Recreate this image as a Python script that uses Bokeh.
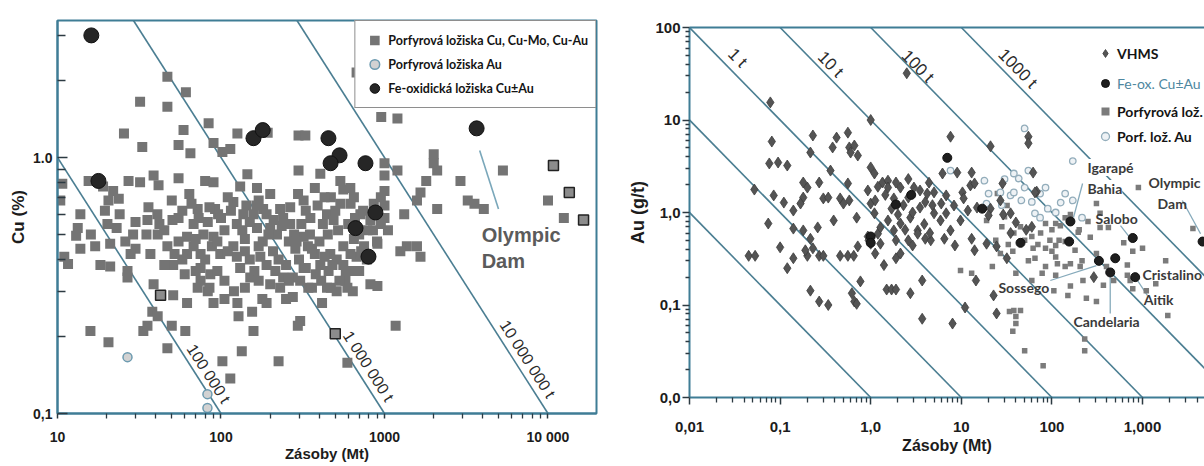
from bokeh.plotting import figure
from bokeh.layouts import row, column
from bokeh.models import FixedTicker, LogAxis, Legend, LegendItem
from bokeh.core.properties import value
from bokeh.embed import file_html
from bokeh.resources import INLINE

# ---------------- LEFT CHART DATA (reserves Mt, Cu %) ----------------
porphyry_cu = [
    (47, 2.07), (61, 1.80), (32, 1.65), (47, 1.58), (84, 1.36), (25.5, 1.24), (59, 1.28), (55, 1.12),
    (33, 1.10), (65, 1.04), (90, 1.14), (102, 1.05), (114, 1.08), (126, 1.24), (193, 1.25), (298, 1.22),
    (55, 0.83), (145, 0.86), (298, 0.89), (10.7, 0.79), (15.5, 0.81), (19, 0.77), (21.9, 0.74), (27.2, 0.81),
    (32, 0.80), (38.7, 0.85), (41.5, 0.78), (80, 0.81), (90, 0.80), (131, 0.77), (166, 0.76),
    (10.4, 0.68), (20.5, 0.68), (13.8, 0.60), (19.5, 0.62), (23.7, 0.69), (72, 0.63), (92, 0.63), (119, 0.67),
    (137, 0.60), (143, 0.65), (158, 0.60), (181, 0.63), (230, 0.63), (265, 0.64), (296, 0.72),
    (13.3, 0.53), (20.2, 0.55), (35.5, 0.57), (40.8, 0.60), (50.5, 0.57), (83, 0.56), (96, 0.60), (166, 0.53),
    (200, 0.53), (265, 0.55),
    (675, 2.15), (955, 1.44), (1200, 1.42), (328, 1.22), (1000, 0.95), (1200, 0.89), (2000, 1.03), (2000, 0.95),
    (2100, 0.89), (1800, 0.81), (1660, 0.73), (1580, 0.68), (2915, 0.81), (5300, 0.89), (10000, 0.68),
    (12500, 0.58), (3230, 0.68), (3550, 0.66), (4050, 0.63), (1320, 0.60), (2100, 0.63), (1000, 0.85),
    (1000, 0.74), (1000, 0.65), (405, 0.865), (375, 0.76), (537, 0.81), (618, 0.76), (650, 0.70), (537, 0.66),
    (445, 0.60), (712, 0.60), (320, 0.68), (352, 0.58), (488, 0.57), (785, 0.52),
    (13.8, 0.44), (11.6, 0.384), (11.0, 0.41), (18.3, 0.38), (21, 0.375), (26.8, 0.36), (26.8, 0.34), (13, 0.495),
    (51, 0.29), (38.7, 0.32), (62, 0.27), (72, 0.31), (83, 0.30), (38, 0.25), (41, 0.24), (33.5, 0.21),
    (35.5, 0.22), (50, 0.22), (60.5, 0.21), (15.9, 0.21), (20.5, 0.19), (47, 0.18), (102, 0.16), (134, 0.175),
    (114, 0.137), (126, 0.27), (128, 0.24), (155, 0.25), (158, 0.21), (225, 0.16), (295, 0.22), (179, 0.28),
    (230, 0.31), (275, 0.285), (21, 0.46), (29, 0.50), (37, 0.42), (47, 0.45), (51, 0.38), (62, 0.42),
    (75, 0.37), (86, 0.35), (99, 0.42), (119, 0.45), (131, 0.37), (151, 0.34), (174, 0.41), (208, 0.43),
    (250, 0.38), (275, 0.34), (90, 0.49), (62, 0.49), (41, 0.50), (75, 0.42),
    (1370, 0.45), (1580, 0.45), (1660, 0.41), (1250, 0.43), (905, 0.315), (1170, 0.22), (593, 0.158),
    (415, 0.27), (342, 0.31), (577, 0.33), (593, 0.31), (455, 0.36), (445, 0.31), (305, 0.33), (305, 0.23),
    (320, 0.49), (375, 0.42), (466, 0.42), (560, 0.45), (675, 0.41), (905, 0.46), (320, 0.37), (405, 0.38),
    (45, 0.52), (55, 0.47), (68, 0.55), (78, 0.50), (88, 0.45), (105, 0.52), (125, 0.55), (140, 0.48),
    (180, 0.47), (220, 0.50), (240, 0.58), (260, 0.47), (30, 0.56), (24, 0.60), (36, 0.64), (50, 0.68),
    (64, 0.72), (110, 0.70), (170, 0.68), (200, 0.72), (350, 0.50), (420, 0.55), (470, 0.70), (560, 0.75),
    (600, 0.55), (700, 0.50), (750, 0.45), (820, 0.57), (150, 0.40), (120, 0.30), (90, 0.27), (60, 0.35),
    (45, 0.38), (75, 0.33), (110, 0.43), (200, 0.32), (250, 0.28), (300, 0.40), (380, 0.35), (480, 0.38),
    (530, 0.33), (640, 0.30), (700, 0.36), (820, 0.32), (900, 0.47), (950, 0.55), (1000, 0.58), (1050, 0.52),
    (58, 0.62), (66, 0.66), (73, 0.58), (85, 0.64), (100, 0.58), (115, 0.62), (135, 0.52), (150, 0.56),
    (165, 0.65), (190, 0.60), (210, 0.57), (235, 0.54), (280, 0.50), (310, 0.55), (330, 0.62), (390, 0.65),
    (430, 0.70), (500, 0.62), (520, 0.52), (620, 0.66), (660, 0.58), (740, 0.62), (860, 0.66), (950, 0.70),
    (52, 0.42), (58, 0.40), (68, 0.45), (80, 0.40), (95, 0.36), (105, 0.33), (140, 0.43), (160, 0.36),
    (190, 0.38), (225, 0.40), (240, 0.34), (285, 0.44), (340, 0.45), (400, 0.47), (430, 0.41), (510, 0.40),
    (560, 0.38), (620, 0.42), (720, 0.43), (780, 0.40), (30, 0.44), (35, 0.50), (28, 0.42), (17, 0.45),
    (16, 0.50), (23, 0.53), (26, 0.47), (42, 0.55), (55, 0.58), (70, 0.48), (95, 0.47), (125, 0.41),
    (170, 0.45), (195, 0.50), (290, 0.47), (360, 0.44), (450, 0.50), (650, 0.48), (850, 0.52), (70, 0.36),
    (85, 0.31), (105, 0.28), (140, 0.31), (170, 0.33), (190, 0.27), (215, 0.36), (260, 0.33), (330, 0.37),
    (360, 0.31), (410, 0.33), (470, 0.31), (510, 0.30), (580, 0.36), (650, 0.36),
]
porphyry_cu_outlined = [(10800, 0.93), (13500, 0.73), (16500, 0.57), (42.7, 0.29), (500, 0.205)]
porphyry_au = [(26.8, 0.166), (82.6, 0.119), (82.6, 0.105)]
fe_oxide_cu = [(16.1, 3.0), (17.8, 0.81), (158, 1.19), (180, 1.28), (454, 1.19), (531, 1.02), (468, 0.95),
               (765, 0.95), (880, 0.61), (665, 0.53), (798, 0.41), (3660, 1.30)]

cu_lines_t = [1e5, 1e6, 1e7]
cu_line_labels = ["100 000 t", "1 000 000 t", "10 000 000 t"]
cu_label_pos = [(84, 0.143), (798, 0.153), (7500, 0.163)]

# ---------------- RIGHT CHART DATA (reserves Mt, Au g/t) ----------------
vhms = [
    (0.078, 15.5), (1.0, 10), (0.081, 5.85), (0.23, 6.8), (0.42, 6.45), (0.56, 7.3), (0.38, 5.05), (0.216, 4.45),
    (0.58, 5.05), (0.66, 5.3), (0.6, 4.45), (0.72, 4.13), (0.076, 3.39), (0.095, 3.47), (0.12, 3.22), (0.36, 2.84),
    (1.0, 3.07), (1.1, 2.64), (1.35, 2.11), (1.55, 2.21), (1.9, 2.11), (0.052, 1.77), (0.085, 1.53), (0.11, 1.28),
    (0.14, 1.05), (0.18, 2.11), (0.2, 1.86), (0.27, 2.11), (0.3, 1.42), (0.34, 1.45), (0.18, 1.45), (0.168, 1.25),
    (0.46, 1.42), (0.5, 1.25), (0.58, 1.35), (0.56, 2.06), (0.7, 0.88), (0.93, 1.73), (1.0, 1.25), (1.12, 1.35),
    (1.55, 1.86), (1.8, 1.42), (1.1, 0.98), (0.074, 0.76), (0.14, 0.67), (0.18, 0.64), (0.26, 0.69), (0.39, 0.82),
    (1.55, 0.82), (0.045, 0.34), (0.053, 0.34), (0.1, 0.42), (0.12, 0.25), (0.14, 0.32), (0.2, 0.34), (0.23, 0.41),
    (0.27, 0.34), (0.3, 0.34), (0.46, 0.34), (0.56, 0.34), (0.65, 0.34), (0.72, 0.43), (0.95, 0.5), (1.12, 0.36),
    (1.4, 0.27), (0.216, 0.143), (0.27, 0.109), (0.34, 0.1), (0.62, 0.134), (0.66, 0.109), (0.7, 0.103),
    (0.77, 0.18), (1.5, 0.147), (1.7, 0.147), (1.9, 0.147), (1.9, 0.32), (0.216, 0.52), (0.19, 0.39),
    (3.7, 0.184), (2.74, 0.134), (3.7, 0.071), (8.0, 0.063), (11, 0.094), (14.5, 0.184), (14, 0.39), (8.5, 0.44),
    (6.5, 0.52), (13, 0.52), (22.7, 0.127), (24.5, 0.081), (19, 0.46), (31.8, 0.32), (24.5, 0.43), (290, 0.2),
    (2.9, 0.44), (2.13, 0.36), (2.5, 32), (7.6, 6.6), (21, 5.2), (55, 6.6), (55, 5.6), (62, 2.7), (68, 1.68),
    (6.2, 2.64), (9.0, 2.7), (13, 2.7), (28.5, 2.06), (3.0, 1.86), (4.4, 2.1), (5.0, 1.65), (6.8, 1.53),
    (10.3, 1.65), (12.6, 1.96), (14, 2.06), (10.6, 1.42), (8.3, 1.19), (14.9, 1.13), (21, 1.1), (20, 0.93),
    (27, 1.35), (35, 0.98), (40, 0.78), (2.13, 1.86), (2.6, 1.45), (3.5, 1.73), (3.5, 1.13), (5.0, 0.98),
    (5.9, 0.82), (2.74, 0.88), (9.8, 0.82), (11.8, 1.05), (65, 1.65), (0.93, 0.55), (1.2, 0.59), (1.28, 0.46),
    (1.9, 0.5), (1.0, 0.46), (1.8, 0.64), (1.28, 0.69), (2.13, 0.76), (3.3, 0.64), (7.6, 0.64), (6.8, 0.98),
    (2.6, 0.5), (3.3, 0.59), (4.0, 0.52), (4.6, 0.5), (29, 0.95), (35, 0.6), (52, 0.65), (60, 0.7),
    (2.3, 1.2), (2.9, 1.0), (4.0, 1.3), (4.8, 1.2), (1.7, 1.1), (2.0, 0.95), (3.9, 0.75), (4.5, 0.6),
    (2.4, 0.65), (6.0, 1.25), (1.45, 1.55), (1.2, 1.9), (2.6, 2.3), (4.2, 1.6),
]
fe_ox = [(7.0, 3.9), (17, 1.1), (160, 0.8), (155, 0.485), (780, 0.53), (330, 0.3), (500, 0.32), (440, 0.225),
         (830, 0.2), (4600, 0.485), (45, 0.47), (1.0, 0.55), (1.0, 0.47), (2.8, 1.55), (1.9, 1.22)]
porphyry = [
    (310, 1.25), (900, 1.86), (25, 1.6), (32, 1.19), (19, 0.82), (110, 0.76), (85, 0.76), (140, 0.88), (340, 0.98),
    (62, 0.41), (65, 0.32), (85, 0.41), (110, 0.33), (110, 0.44), (140, 0.485), (180, 0.39), (205, 0.26),
    (220, 0.184), (140, 0.26), (115, 0.28), (160, 0.16), (150, 0.127), (105, 0.143), (78, 0.22), (60, 0.184),
    (40, 0.22), (37, 0.38), (27, 0.36), (9.8, 0.236), (13, 0.22), (22, 0.26), (34, 0.085), (38, 0.087),
    (45, 0.087), (40, 0.075), (40, 0.063), (37, 0.052), (50, 0.032), (80, 0.022), (230, 0.043), (230, 0.032),
    (240, 0.118), (310, 0.109), (480, 0.184), (370, 0.163), (680, 0.27), (680, 0.21), (730, 0.184), (780, 0.15),
    (1100, 0.143), (1400, 0.17), (1900, 0.077), (1000, 0.41), (780, 0.38), (310, 0.36), (215, 0.3), (400, 0.26),
    (110, 0.21), (85, 0.26), (124, 0.72), (195, 0.61), (265, 0.54), (340, 0.69), (420, 0.69), (620, 0.47),
    (1800, 0.30), (3600, 0.67), (160, 0.28), (30, 0.9), (45, 0.7), (60, 0.55), (75, 0.6), (95, 0.5), (100, 0.65),
    (70, 0.45), (50, 0.5), (38, 0.6), (28, 0.7), (24, 0.5), (33, 0.45), (120, 0.5), (100, 0.38), (55, 0.3),
    (160, 0.95), (200, 0.65), (250, 0.8),
]
porphyry_au_r = [
    (170, 3.6), (50, 8.1), (38, 2.64), (55, 2.84), (18, 2.21), (20, 1.6), (19, 1.25), (27, 1.65), (35, 1.53),
    (38, 1.65), (43, 2.33), (50, 1.86), (74, 1.6), (85, 1.86), (90, 1.1), (65, 0.98), (140, 1.6), (170, 1.35),
    (215, 0.88), (74, 0.88), (7.6, 2.84), (125, 1.28), (46, 1.35), (30, 2.3), (60, 1.3), (110, 1.0), (28, 1.2),
]

au_lines_t = [0.01, 0.1, 1, 10, 100, 1000]
au_line_labels = ["1 t", "10 t", "100 t", "1000 t"]
au_label_pos = [(0.034, 47), (0.36, 40), (3.3, 38), (42, 36)]

deposit_names = ["Igarapé", "Bahia", "Olympic", "Dam", "Salobo", "Cristalino", "Aitik", "Sossego", "Candelaria"]
deposit_label_pos = [(247, 3.07), (247, 1.82), (1165, 2.11), (1466, 1.25), (303, 0.86), (1000, 0.213),
                     (1030, 0.115), (25.7, 0.153), (173, 0.066)]
leader_from = [(218, 2.06), (2750, 1.35), (571, 0.72), (880, 0.184), (96, 0.184), (440, 0.225)]
leader_to = [(173, 0.88), (4370, 0.59), (700, 0.56), (1130, 0.127), (310, 0.267), (440, 0.081)]

# ---------------- STYLE ----------------
TEAL = "#3f7d95"
LINEC = "#4b7e92"
TICK = "#2c3a42"
AX_FONT = "Liberation Sans"
NARROW = "Lato"


def xs(pts):
    return [p[0] for p in pts]


def ys(pts):
    return [p[1] for p in pts]


def log_minor(lo, hi):
    return [m * 10.0 ** e for e in range(lo, hi) for m in range(2, 10)]


def style_axis(ax, label_size, title_size):
    ax.axis_line_color = TEAL
    ax.axis_line_width = 2
    ax.major_tick_line_color = TICK
    ax.minor_tick_line_color = TICK
    ax.major_tick_line_width = 1.5
    ax.minor_tick_line_width = 1.3
    ax.major_label_text_font = AX_FONT
    ax.major_label_text_font_style = "bold"
    ax.major_label_text_color = "#1c1c1c"
    ax.major_label_text_font_size = label_size
    ax.axis_label_text_font = AX_FONT
    ax.axis_label_text_font_style = "bold"
    ax.axis_label_text_color = "#1c1c1c"
    ax.axis_label_text_font_size = title_size


# ================= LEFT FIGURE =================
LX = (10, 19800)
LY = (0.1, 3.43)
p1 = figure(width=600, height=465, x_axis_type="log", y_axis_type="log", x_range=LX, y_range=LY,
            output_backend="svg", toolbar_location=None,
            min_border_left=57, min_border_right=4, min_border_top=20, min_border_bottom=52)
p1.grid.visible = False
p1.outline_line_color = TEAL
p1.outline_line_width = 2

for t in cu_lines_t:
    c = t / 1e4
    p1.line([c / LY[1], c / LY[0]], [LY[1], LY[0]], line_color=LINEC, line_width=1.6)

p1.text(x=xs(cu_label_pos), y=ys(cu_label_pos), text=cu_line_labels, angle=-1.0,
        text_font=value(AX_FONT), text_font_size="16px", text_color="#2b2b2b",
        text_align="center", text_baseline="middle")

p1.line([3820, 4980], [1.065, 0.63], line_color="#7aa7ba", line_width=1.6)
p1.text(x=[3930, 3930], y=[0.50, 0.394], text=["Olympic", "Dam"], text_font=value(AX_FONT),
        text_font_size="20px", text_font_style="bold", text_color="#5b5b5b",
        text_align="left", text_baseline="middle")

r_por = p1.scatter(xs(porphyry_cu), ys(porphyry_cu), marker="square", size=10,
                   fill_color="#747474", line_color=None)
p1.scatter(xs(porphyry_cu_outlined), ys(porphyry_cu_outlined), marker="square", size=10,
           fill_color="#8c8c8c", line_color="#222222", line_width=1.5)
r_au = p1.scatter(xs(porphyry_au), ys(porphyry_au), marker="circle", size=9,
                  fill_color="#d2d2d2", line_color="#6d9bb0", line_width=1.5)
r_fe = p1.scatter(xs(fe_oxide_cu), ys(fe_oxide_cu), marker="circle", size=15,
                  fill_color="#262626", line_color="#111111")

p1.xaxis.ticker = FixedTicker(ticks=[10, 100, 1000, 10000], minor_ticks=log_minor(1, 5))
p1.xaxis.major_label_overrides = {10: "10", 100: "100", 1000: "1000", 10000: "10 000"}
p1.yaxis.ticker = FixedTicker(ticks=[0.1, 1], minor_ticks=log_minor(-1, 1))
p1.yaxis.major_label_overrides = {0.1: "0,1", 1: "1.0"}
p1.xaxis.axis_label = "Zásoby (Mt)"
p1.yaxis.axis_label = "Cu (%)"

style_axis(p1.xaxis[0], "14px", "15px")
style_axis(p1.yaxis[0], "14px", "17px")
xa = p1.xaxis[0]
xa.major_tick_in, xa.major_tick_out, xa.minor_tick_in, xa.minor_tick_out = 0, 5, 0, 5
xa.major_label_standoff = 10
xa.axis_label_standoff = -3
ya = p1.yaxis[0]
ya.major_tick_in, ya.major_tick_out, ya.minor_tick_in, ya.minor_tick_out = 10, 0, 8, 0
ya.major_label_standoff = 5
ya.axis_label_standoff = 2

leg1 = Legend(items=[LegendItem(label="Porfyrová ložiska Cu, Cu-Mo, Cu-Au", renderers=[r_por]),
                     LegendItem(label="Porfyrová ložiska Au", renderers=[r_au]),
                     LegendItem(label="Fe-oxidická ložiska Cu±Au", renderers=[r_fe])],
              location="top_right", margin=0, padding=7, spacing=0,
              glyph_width=24, glyph_height=24, label_height=24, label_standoff=2,
              border_line_color="#1e1e1e", border_line_width=1.5,
              background_fill_color="white", background_fill_alpha=1.0,
              label_text_font=NARROW, label_text_font_size="12.5px", label_text_font_style="bold",
              label_text_color="#141414")
p1.add_layout(leg1)

# ================= RIGHT FIGURE =================
RX = (0.01, 4830)
RY = (0.01, 100)
p2 = figure(width=604, height=465, x_axis_type="log", y_axis_type="log", x_range=RX, y_range=RY,
            output_backend="svg", toolbar_location=None,
            min_border_left=89, min_border_right=0, min_border_top=27, min_border_bottom=68)
p2.grid.visible = False
p2.outline_line_color = None

for t in au_lines_t:
    p2.line([t / RY[1], t / RY[0]], [RY[1], RY[0]], line_color=LINEC, line_width=1.6)

p2.text(x=xs(au_label_pos), y=ys(au_label_pos), text=au_line_labels, angle=-0.796,
        text_font=value(AX_FONT), text_font_size="17px", text_color="#2b2b2b",
        text_align="center", text_baseline="middle")

p2.segment(x0=xs(leader_from), y0=ys(leader_from), x1=xs(leader_to), y1=ys(leader_to),
           line_color="#86aabb", line_width=1.3)

r_por2 = p2.scatter(xs(porphyry), ys(porphyry), marker="square", size=5.5,
                    fill_color="#7b7b7b", line_color=None)
r_au2 = p2.scatter(xs(porphyry_au_r), ys(porphyry_au_r), marker="circle", size=6.5,
                   fill_color="#eef2f5", line_color="#93adbb", line_width=1.3)
r_vh = p2.scatter(xs(vhms), ys(vhms), marker="diamond", size=11,
                  fill_color="#545454", line_color="#3c3c3c", line_width=0.8)
r_fe2 = p2.scatter(xs(fe_ox), ys(fe_ox), marker="circle", size=9,
                   fill_color="#1e1e1e", line_color="#111111")

p2.text(x=xs(deposit_label_pos)[:2], y=ys(deposit_label_pos)[:2], text=deposit_names[:2],
        text_font=value(NARROW), text_font_size="14px", text_font_style="bold", text_color="#3a3a3a",
        text_align="left", text_baseline="middle", background_fill_color="white")
p2.text(x=xs(deposit_label_pos)[2:], y=ys(deposit_label_pos)[2:], text=deposit_names[2:],
        text_font=value(NARROW), text_font_size="14px", text_font_style="bold", text_color="#3a3a3a",
        text_align="left", text_baseline="middle")

p2.xaxis.ticker = FixedTicker(ticks=[0.01, 0.1, 1, 10, 100, 1000], minor_ticks=log_minor(-2, 4))
p2.xaxis.major_label_overrides = {0.01: "0,01", 0.1: "0,1", 1: "1,0", 10: "10", 100: "100", 1000: "1,000"}
p2.yaxis.ticker = FixedTicker(ticks=[0.01, 0.1, 1, 10, 100], minor_ticks=log_minor(-2, 2))
p2.yaxis.major_label_overrides = {0.01: "0,0", 0.1: "0,1", 1: "1,0", 10: "10", 100: "100"}
p2.xaxis.axis_label = "Zásoby (Mt)"
p2.yaxis.axis_label = "Au (g/t)"

style_axis(p2.xaxis[0], "15px", "16px")
style_axis(p2.yaxis[0], "15px", "18px")
xb = p2.xaxis[0]
xb.major_tick_in, xb.major_tick_out, xb.minor_tick_in, xb.minor_tick_out = 0, 7, 0, 5
xb.major_label_standoff = 17
xb.axis_label_standoff = 2
yb = p2.yaxis[0]
yb.major_tick_in, yb.major_tick_out, yb.minor_tick_in, yb.minor_tick_out = 0, 7, 0, 4
yb.major_label_standoff = 2
yb.axis_label_standoff = 4

top_axis = LogAxis(ticker=FixedTicker(ticks=[]), axis_line_color=TEAL, axis_line_width=2,
                   major_tick_line_color=None, minor_tick_line_color=None,
                   major_label_text_font_size="0px", major_label_standoff=0)
p2.add_layout(top_axis, "above")

common = dict(margin=0, padding=0, spacing=5, glyph_width=20, glyph_height=20, label_height=20,
              label_standoff=2, border_line_color=None, background_fill_alpha=0.0,
              label_text_font=NARROW, label_text_font_size="14px")
leg_a = Legend(items=[LegendItem(label="VHMS", renderers=[r_vh])], location=(406, 334),
               label_text_font_style="bold", label_text_color="#141414", **common)
leg_b = Legend(items=[LegendItem(label="Fe-ox. Cu±Au", renderers=[r_fe2])], location=(406, 304),
               label_text_font_style="normal", label_text_color="#4e87a0", **common)
leg_c = Legend(items=[LegendItem(label="Porfyrová lož.", renderers=[r_por2]),
                      LegendItem(label="Porf. lož. Au", renderers=[r_au2])], location=(406, 251),
               label_text_font_style="bold", label_text_color="#141414", **common)
for lg in (leg_a, leg_b, leg_c):
    p2.add_layout(lg)

layout = row(p1, column(p2))
open("out.html", "w").write(file_html(layout, INLINE))
